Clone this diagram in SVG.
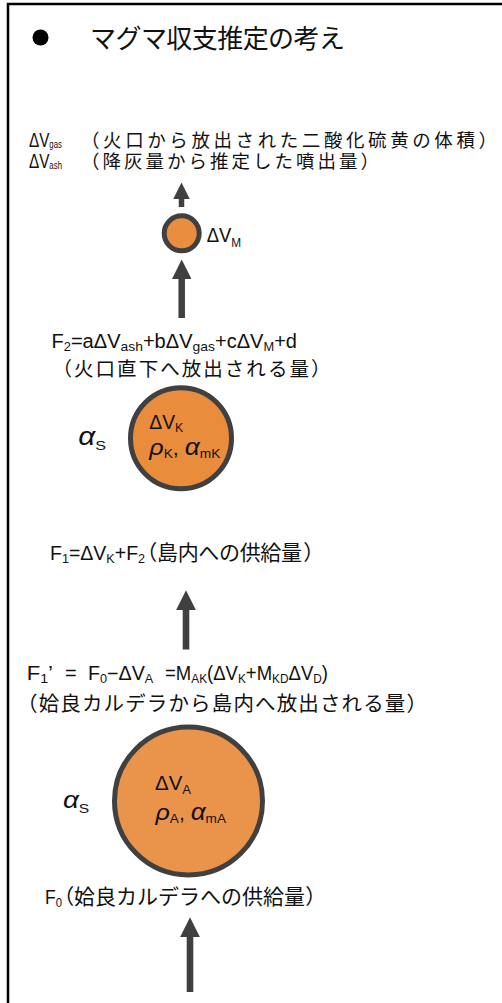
<svg xmlns="http://www.w3.org/2000/svg" width="502" height="1003" viewBox="0 0 502 1003">
<style>
text{fill:#111}
.jp{font-family:"Noto Sans CJK JP",sans-serif}
.pp{font-family:"Noto Sans CJK JP",sans-serif;font-feature-settings:"palt"}
.lt{font-family:"Liberation Sans","Noto Sans CJK JP",sans-serif}
.gk{font-family:"Liberation Sans",sans-serif;font-style:italic}
.f18{font-size:18.5px}
.f19{font-size:19.5px}
.f21{font-size:21px}
.sb{font-size:10px}
.sb2{font-size:12.5px}
.sb3{font-size:13.5px}
.mag{stroke:#404040;stroke-width:5}
.con{stroke:#404040;fill:none}
</style>
<defs>
<marker id="ah" viewBox="0 0 10 10" refX="0" refY="5" markerWidth="3" markerHeight="3" orient="auto" markerUnits="strokeWidth"><path d="M0,0 L10,5 L0,10 z" fill="#404040"/></marker>
</defs>
<rect x="8" y="4" width="600" height="1100" fill="#fff" stroke="#000" stroke-width="2.5"/>

<g id="title">
<circle cx="40.5" cy="37.5" r="8" fill="#000"/>
<text class="jp" x="90" y="48" font-size="26" textLength="255" lengthAdjust="spacing">マグマ収支推定の考え</text>
</g>

<g id="connectors">
<line class="con" x1="181.5" y1="207" x2="181.5" y2="199" stroke-width="5.5" marker-end="url(#ah)"/>
<line class="con" x1="181.7" y1="318" x2="181.7" y2="279" stroke-width="6.5" marker-end="url(#ah)"/>
<line class="con" x1="186" y1="649.5" x2="186" y2="610" stroke-width="6.6" marker-end="url(#ah)"/>
<line class="con" x1="190" y1="992" x2="190" y2="937" stroke-width="6.6" marker-end="url(#ah)"/>
</g>

<g id="outputs">
<text class="lt f19" transform="translate(29,147) scale(0.78,1)" x="0" y="0" textLength="42.3" lengthAdjust="spacingAndGlyphs">ΔV<tspan class="sb" dy="1">gas</tspan></text>
<text class="jp f18" x="81" y="147" textLength="416" lengthAdjust="spacing">（火口から放出された二酸化硫黄の体積）</text>
<text class="lt f19" transform="translate(29,168) scale(0.78,1)" x="0" y="0" textLength="42.3" lengthAdjust="spacingAndGlyphs">ΔV<tspan class="sb" dy="1">ash</tspan></text>
<text class="jp f18" x="81" y="168" textLength="298" lengthAdjust="spacing">（降灰量から推定した噴出量）</text>
</g>

<g id="node-M">
<circle class="mag" cx="181.7" cy="233.3" r="17.5" fill="#E98D3E"/>
<text class="lt f19" x="206.7" y="241.7" textLength="34.5" lengthAdjust="spacingAndGlyphs">ΔV<tspan class="sb2" dy="5">M</tspan></text>
</g>

<g id="label-F2">
<text class="lt f19" x="51.5" y="348" textLength="245.5" lengthAdjust="spacingAndGlyphs">F<tspan class="sb2" dy="3">2</tspan><tspan dy="-3">=aΔV</tspan><tspan class="sb3" dy="3">ash</tspan><tspan dy="-3">+bΔV</tspan><tspan class="sb3" dy="3">gas</tspan><tspan dy="-3">+cΔV</tspan><tspan class="sb2" dy="3">M</tspan><tspan dy="-3">+d</tspan></text>
<text class="jp f19" x="52.5" y="376" textLength="278" lengthAdjust="spacing">（火口直下へ放出される量）</text>
</g>

<g id="node-K">
<circle class="mag" cx="181" cy="438.3" r="50.5" fill="#E98C3C"/>
<text class="lt f19" x="149.3" y="429" textLength="34" lengthAdjust="spacingAndGlyphs">ΔV<tspan class="sb2" dy="3">K</tspan></text>
<text class="lt f19" x="149.3" y="455" textLength="71" lengthAdjust="spacingAndGlyphs"><tspan class="gk" font-size="23">ρ</tspan><tspan class="sb2" dy="3">K</tspan><tspan dy="-3">, </tspan><tspan class="gk" font-size="24">α</tspan><tspan class="sb2" dy="3">mK</tspan></text>
<text class="lt" x="78.3" y="445" textLength="27.7" lengthAdjust="spacingAndGlyphs"><tspan class="gk" font-size="25">α</tspan><tspan class="sb3" dy="5">S</tspan></text>
</g>

<g id="label-F1">
<text class="lt f21" transform="translate(50,560) scale(0.93,1)" x="0" y="0" textLength="102.2" lengthAdjust="spacingAndGlyphs">F<tspan class="sb3" dy="3">1</tspan><tspan dy="-3">=ΔV</tspan><tspan class="sb3" dy="3">K</tspan><tspan dy="-3">+F</tspan><tspan class="sb3" dy="3">2</tspan></text>
<text class="pp f21" x="146" y="560">（</text>
<text class="jp f21" x="157" y="560" textLength="145" lengthAdjust="spacing">島内への供給量</text>
<text class="pp f21" x="304" y="560">）</text>
</g>

<g id="label-F1p">
<text class="lt f19" x="26.7" y="680" textLength="26.3" lengthAdjust="spacingAndGlyphs">F<tspan class="sb2" dy="3">1</tspan><tspan dy="-3">’</tspan></text>
<text class="lt f19" x="65" y="680" textLength="11.7" lengthAdjust="spacingAndGlyphs">=</text>
<text class="lt f19" x="88" y="680" textLength="65.3" lengthAdjust="spacingAndGlyphs">F<tspan class="sb2" dy="3">0</tspan><tspan dy="-3">−ΔV</tspan><tspan class="sb2" dy="3">A</tspan></text>
<text class="lt f19" transform="translate(165,680) scale(0.95,1)" x="0" y="0" textLength="171.6" lengthAdjust="spacingAndGlyphs">=M<tspan class="sb2" dy="3">AK</tspan><tspan dy="-3">(ΔV</tspan><tspan class="sb2" dy="3">K</tspan><tspan dy="-3">+M</tspan><tspan class="sb2" dy="3">KD</tspan><tspan dy="-3">ΔV</tspan><tspan class="sb2" dy="3">D</tspan><tspan dy="-3">)</tspan></text>
<text class="jp" x="17" y="711" font-size="20.5" textLength="410" lengthAdjust="spacing">（姶良カルデラから島内へ放出される量）</text>
</g>

<g id="node-A">
<circle class="mag" cx="188.5" cy="801" r="74" fill="#EA944B"/>
<text class="lt f19" x="155" y="790" textLength="36" lengthAdjust="spacingAndGlyphs">ΔV<tspan class="sb2" dy="4">A</tspan></text>
<text class="lt f19" x="155.5" y="820" textLength="70.5" lengthAdjust="spacingAndGlyphs"><tspan class="gk" font-size="23">ρ</tspan><tspan class="sb2" dy="3">A</tspan><tspan dy="-3">, </tspan><tspan class="gk" font-size="24">α</tspan><tspan class="sb2" dy="3">mA</tspan></text>
<text class="lt" x="63" y="808" textLength="26.3" lengthAdjust="spacingAndGlyphs"><tspan class="gk" font-size="24">α</tspan><tspan class="sb3" dy="5">S</tspan></text>
</g>

<g id="label-F0">
<text class="lt f21" transform="translate(45,904) scale(0.84,1)" x="0" y="0" textLength="20.3" lengthAdjust="spacingAndGlyphs">F<tspan class="sb3" dy="3">0</tspan></text>
<text class="pp f21" x="63" y="904">（</text>
<text class="jp f21" x="74" y="904" textLength="231" lengthAdjust="spacing">姶良カルデラへの供給量</text>
<text class="pp f21" x="306" y="904">）</text>
</g>
</svg>
